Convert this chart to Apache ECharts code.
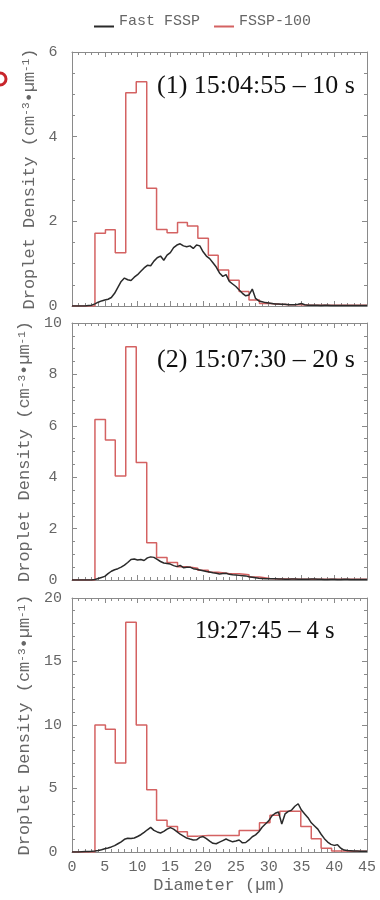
<!DOCTYPE html>
<html>
<head>
<meta charset="utf-8">
<script src="https://cdn.jsdelivr.net/npm/echarts@6/dist/echarts.min.js"></script>
<style>
html,body{margin:0;padding:0;background:#fff;}
#chart{width:380px;height:900px;}
</style>
</head>
<body>
<div id="chart"></div>
<script>
// ---------------- data ----------------
// FSSP-100 bin edges (µm)
const binEdges = [3.5,5.1,6.6,8.2,9.8,11.4,12.9,14.5,16.1,17.6,19.2,20.8,22.3,23.9,25.5,27.0,28.6,30.2,31.7,33.3,34.9,36.5,38.0,39.6,41.2,42.7,44.3,45.0];
// FSSP-100 droplet density per bin
const fssp100Panel1 = [1.72,1.80,1.26,5.04,5.30,2.78,1.81,1.73,1.97,1.89,1.60,1.20,0.85,0.61,0.34,0.14,0.06,0.04,0.03,0.03,0.02,0.02,0.02,0.02,0.02,0.02,0.02];
const fssp100Panel2 = [6.25,5.45,4.05,9.08,4.57,1.45,0.88,0.68,0.52,0.46,0.38,0.30,0.25,0.24,0.20,0.12,0.06,0.04,0.04,0.03,0.03,0.03,0.03,0.03,0.03,0.03,0.03];
const fssp100Panel3 = [10.0,9.66,7.0,18.1,10.0,4.9,2.5,2.0,1.6,1.25,1.3,1.3,1.3,1.3,1.7,1.7,2.3,2.9,3.2,3.2,2.0,1.05,0.3,0.08,0.06,0.05,0.05];

// Fast FSSP diameters (µm)
const fastDiam = [0,0.5,1,1.5,2,2.5,3,3.5,4,4.5,5,5.5,6,6.5,7,7.5,8,8.5,9,9.5,10,10.5,11,11.5,12,12.5,13,13.5,14,14.5,15,15.5,16,16.5,17,17.5,18,18.5,19,19.5,20,20.5,21,21.5,22,22.5,23,23.5,24,24.5,25,25.5,26,26.5,27,27.5,28,28.5,29,29.5,30,30.5,31,31.5,32,32.5,33,33.5,34,34.5,35,35.5,36,36.5,37,37.5,38,38.5,39,39.5,40,40.5,41,41.5,42,42.5,43,43.5,44,44.5,45];
const fastPanel1 = [
  0,0,0,0,0,0.01,0.02,0.05,0.09,0.12,
  0.14,0.16,0.2,0.3,0.44,0.58,0.66,0.62,0.6,0.68,
  0.74,0.82,0.9,0.96,0.95,1.06,1.14,1.18,1.08,1.2,
  1.26,1.38,1.44,1.47,1.42,1.4,1.42,1.36,1.44,1.42,
  1.28,1.18,1.12,1.02,0.92,0.78,0.7,0.74,0.58,0.52,
  0.46,0.38,0.3,0.24,0.26,0.4,0.18,0.12,0.1,0.08,
  0.07,0.06,0.05,0.05,0.04,0.04,0.03,0.03,0.03,0.04,
  0.06,0.03,0.02,0.02,0.02,0.02,0.01,0.02,0.02,0.01,
  0.01,0.01,0.01,0.01,0.01,0.01,0.01,0.01,0.01,0.01,
  0.01];
const fastPanel2 = [
  0,0,0,0,0,0,0,0.02,0.06,0.1,
  0.14,0.25,0.34,0.4,0.44,0.5,0.58,0.68,0.8,0.82,
  0.78,0.8,0.76,0.86,0.9,0.88,0.8,0.72,0.66,0.64,
  0.62,0.56,0.52,0.57,0.48,0.5,0.5,0.44,0.42,0.39,
  0.36,0.33,0.31,0.28,0.26,0.23,0.25,0.26,0.22,0.2,
  0.19,0.18,0.17,0.16,0.13,0.11,0.09,0.07,0.06,0.05,
  0.05,0.05,0.05,0.04,0.04,0.03,0.03,0.04,0.04,0.03,
  0.03,0.03,0.03,0.04,0.04,0.03,0.03,0.02,0.02,0.03,
  0.03,0.02,0.02,0.03,0.03,0.02,0.02,0.02,0.02,0.02,
  0.02];
const fastPanel3 = [
  0,0,0,0.02,0.03,0.04,0.05,0.08,0.12,0.18,
  0.25,0.32,0.4,0.5,0.65,0.8,1.0,1.08,1.06,1.1,
  1.22,1.36,1.55,1.75,1.94,1.7,1.58,1.5,1.62,1.8,
  1.92,1.8,1.6,1.4,1.25,1.1,1.02,0.95,0.96,1.15,
  1.22,1.05,0.85,0.68,0.65,0.78,0.9,1.02,0.9,0.8,
  0.86,0.95,0.72,0.75,0.95,1.2,1.35,1.6,1.95,2.2,
  2.45,2.85,3.05,3.15,2.2,3.0,3.2,3.3,3.6,3.8,
  3.3,3.0,2.7,2.3,2.05,1.8,1.4,1.05,0.78,0.6,
  0.52,0.58,0.3,0.15,0.12,0.1,0.08,0.07,0.06,0.05,
  0.05];

// axis settings / labels
const xTicks = [0,5,10,15,20,25,30,35,40,45];
const yMaxes = [6,10,20];
const yIntervals = [2,2,5];
const panelLabels = ['(1) 15:04:55 \u2013 10 s','(2) 15:07:30 \u2013 20 s','19:27:45 \u2013 4 s'];
const seriesNames = ['Fast FSSP','FSSP-100'];

// ---------------- chart ----------------
const axisColor = '#8a8a8a';
const textColor = '#666666';
const monoFont = '"Liberation Mono", monospace';
const redColor = '#d46262';
const blackColor = '#2a2a2a';

const grids = [
  {left:72, right:13, top:52, height:254},
  {left:72, right:13, top:323, height:257},
  {left:72, right:13, top:598, height:254}
];
const yMinorSplit = [4,4,5];

function stepData(edges, vals){
  const d = [[xTicks[0],0],[edges[0],0]];
  for(let i=0;i<vals.length;i++){
    d.push([edges[i],vals[i]]);
    d.push([edges[i+1],vals[i]]);
  }
  return d;
}
const fastAll = [fastPanel1, fastPanel2, fastPanel3];
const redAll = [fssp100Panel1, fssp100Panel2, fssp100Panel3];

const xAxis = [], yAxis = [], series = [];
const yTitle = '{a|Droplet Density (cm}{s|-3}{a|\u2022\u00b5m}{s|-1}{a|)}';

grids.forEach((g,i)=>{
  const common = {
    type:'value', gridIndex:i, min:xTicks[0], max:xTicks[xTicks.length-1], interval:5,
    axisLine:{show:true, onZero:false, lineStyle:{color:axisColor, width:1}},
    axisTick:{show:true, inside:true, length:5, lineStyle:{color:axisColor}},
    minorTick:{show:true, splitNumber:5, length:3, lineStyle:{color:axisColor}},
    splitLine:{show:false}
  };
  xAxis.push(Object.assign({}, common, {
    position:'bottom',
    axisLabel:{show:i===2, color:textColor, fontFamily:monoFont, fontSize:15, margin:8},
    name: i===2 ? 'Diameter (\u00b5m)' : '',
    nameLocation:'middle', nameGap:25,
    nameTextStyle:{color:textColor, fontFamily:monoFont, fontSize:17}
  }));
  xAxis.push(Object.assign({}, common, {position:'top', axisLabel:{show:false}}));

  const ycommon = {
    type:'value', gridIndex:i, min:0, max:yMaxes[i], interval:yIntervals[i],
    axisLine:{show:true, onZero:false, lineStyle:{color:axisColor, width:1}},
    axisTick:{show:true, inside:true, length:5, lineStyle:{color:axisColor}},
    minorTick:{show:true, splitNumber:yMinorSplit[i], length:3, lineStyle:{color:axisColor}},
    splitLine:{show:false}
  };
  yAxis.push(Object.assign({}, ycommon, {
    position:'left',
    axisLabel:{show:true, color:textColor, fontFamily:monoFont, fontSize:15, margin:19, align:'center'},
    name: yTitle, nameLocation:'middle', nameRotate:90, nameGap:29,
    nameTextStyle:{
      rich:{
        a:{color:textColor, fontFamily:monoFont, fontSize:17},
        s:{color:textColor, fontFamily:monoFont, fontSize:11, verticalAlign:'top'}
      }
    }
  }));
  yAxis.push(Object.assign({}, ycommon, {position:'right', axisLabel:{show:false}}));

  series.push({
    type:'line', name:seriesNames[1], xAxisIndex:2*i, yAxisIndex:2*i,
    data: stepData(binEdges, redAll[i]), symbol:'none', clip:true,
    lineStyle:{color:redColor, width:1.5}, itemStyle:{color:redColor}, z:2
  });
  series.push({
    type:'line', name:seriesNames[0], xAxisIndex:2*i, yAxisIndex:2*i,
    data: fastDiam.map((d,j)=>[d, fastAll[i][j]]), symbol:'none', clip:true,
    lineStyle:{color:blackColor, width:1.5}, itemStyle:{color:blackColor}, z:3
  });
});

const legendIcon = 'path://M0,0L0.01,0L0,0.01Z M0,10L20,10L20,12L0,12Z';
const textY = [86, 360, 632];
const textX = [157, 157, 195];
const textSize = [26, 26, 24.5];

const option = {
  animation:false,
  backgroundColor:'#ffffff',
  grid: grids,
  xAxis, yAxis, series,
  legend:{
    top:9, left:89, itemWidth:20, itemHeight:12, itemGap:14,
    data:[{name:seriesNames[0], icon:legendIcon},{name:seriesNames[1], icon:legendIcon}],
    textStyle:{color:textColor, fontFamily:monoFont, fontSize:15}
  },
  graphic: panelLabels.map((t,i)=>({
    type:'text', x:textX[i], y:textY[i],
    style:{text:t, fill:'#111', font:textSize[i] + 'px "Liberation Serif", serif', verticalAlign:'middle'}
  })).concat([{
    type:'circle', shape:{cx:0, cy:79, r:6},
    style:{fill:'none', stroke:'#c8252b', lineWidth:3}
  }])
};

const chart = echarts.init(document.getElementById('chart'));
chart.setOption(option);
</script>
</body>
</html>
